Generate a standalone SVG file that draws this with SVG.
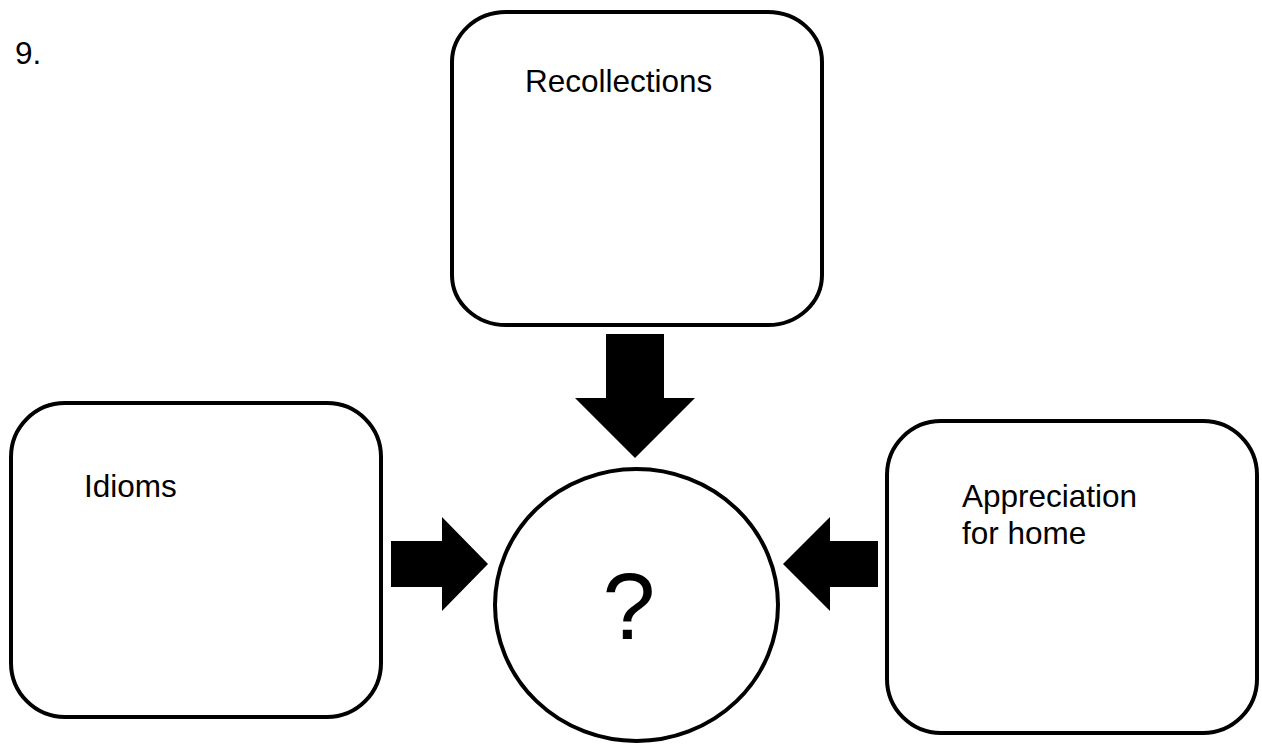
<svg xmlns="http://www.w3.org/2000/svg" width="1262" height="745" viewBox="0 0 1262 745">
<style>
.box{fill:#fff;stroke:#000;stroke-width:4}
.t{font-family:"Liberation Sans",Arial,Helvetica,sans-serif;font-size:31.5px;fill:#000}
.arrow{fill:#000;stroke:none}
</style>
<rect width="1262" height="745" fill="#fff"/>
<text class="t" x="15" y="64">9.</text>
<g id="recollections">
<rect class="box" x="452" y="12" width="370" height="313" rx="54" ry="50"/>
<text class="t" x="525" y="92">Recollections</text>
</g>
<g id="idioms">
<rect class="box" x="11" y="403" width="370" height="314" rx="54" ry="54"/>
<text class="t" x="84" y="497">Idioms</text>
</g>
<g id="appreciation">
<rect class="box" x="887" y="421" width="370" height="312" rx="54" ry="54"/>
<text class="t" x="962" y="507">Appreciation</text>
<text class="t" x="962" y="544">for home</text>
</g>
<g id="center">
<ellipse class="box" cx="636.5" cy="605" rx="141.5" ry="136"/>
<text x="629" y="639" text-anchor="middle" style="font-family:'Liberation Sans',Arial,Helvetica,sans-serif;font-size:95px;fill:#000">?</text>
</g>
<g id="connectors">
<polygon class="arrow" points="606,334 664,334 664,398 695,398 635,458 575,398 606,398"/>
<polygon class="arrow" points="391,541 442,541 442,517 488,564 442,611 442,587 391,587"/>
<polygon class="arrow" points="878,541 830,541 830,517 783,564 830,611 830,587 878,587"/>
</g>
</svg>
